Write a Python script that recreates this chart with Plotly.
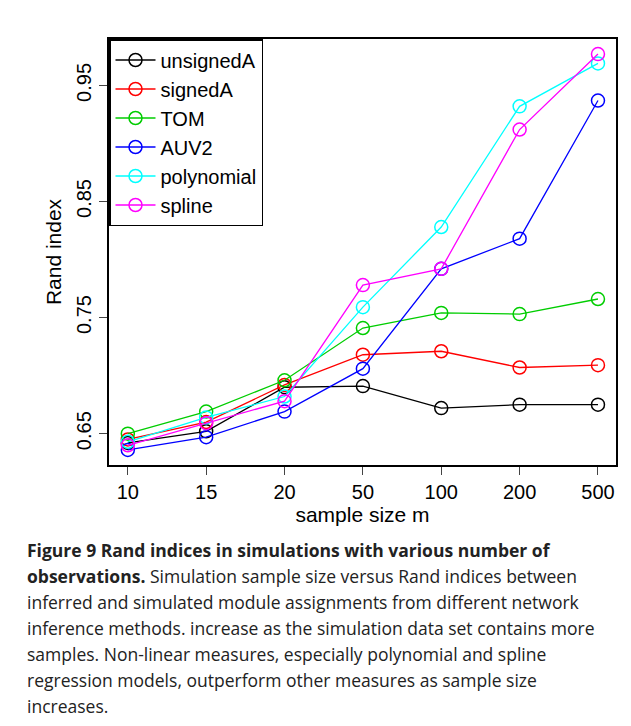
import plotly.graph_objects as go

sizes = ["10", "15", "20", "50", "100", "200", "500"]
unsignedA = [0.642, 0.652, 0.690, 0.691, 0.672, 0.675, 0.675]
signedA = [0.645, 0.660, 0.692, 0.718, 0.721, 0.707, 0.709]
tom = [0.650, 0.669, 0.696, 0.741, 0.754, 0.753, 0.766]
auv2 = [0.636, 0.647, 0.669, 0.706, 0.792, 0.818, 0.937]
polynomial = [0.643, 0.664, 0.682, 0.759, 0.828, 0.932, 0.969]
spline = [0.640, 0.659, 0.678, 0.778, 0.792, 0.912, 0.977]

series = [
    ("unsignedA", unsignedA, "black"),
    ("signedA", signedA, "#ff0000"),
    ("TOM", tom, "#00cd00"),
    ("AUV2", auv2, "#0000ff"),
    ("polynomial", polynomial, "#00ffff"),
    ("spline", spline, "#ff00ff"),
]

fig = go.Figure()
for name, vals, col in series:
    fig.add_trace(go.Scatter(
        x=list(range(len(sizes))), y=vals, name=name, mode="lines+markers",
        line=dict(color=col, width=1.3),
        marker=dict(symbol="circle-open", size=13, color=col, line=dict(width=1.5)),
    ))

font = "Liberation Sans, Arial"
fig.update_layout(
    width=631, height=726, plot_bgcolor="white", paper_bgcolor="white",
    margin=dict(l=101, r=23, t=31, b=269),
    font=dict(family=font, size=20, color="black"),
    showlegend=True,
    legend=dict(x=0, y=1, xanchor="left", yanchor="top", bgcolor="white",
                bordercolor="black", borderwidth=1.5, font=dict(size=20),
                tracegroupgap=0, itemwidth=40),
)
fig.update_xaxes(range=[-0.24, 6.23], tickvals=list(range(len(sizes))), ticktext=sizes,
                 showgrid=False, zeroline=False, showline=True, mirror=True,
                 linecolor="black", linewidth=1.5, ticks="outside", ticklen=8,
                 title=dict(text="sample size m", standoff=2, font=dict(size=21)))
fig.update_yaxes(range=[0.623, 0.990], tickvals=[0.65, 0.75, 0.85, 0.95],
                 ticktext=["0.65", "0.75", "0.85", "0.95"], tickangle=-90,
                 showgrid=False, zeroline=False, showline=True, mirror=True,
                 linecolor="black", linewidth=1.5, ticks="outside", ticklen=8,
                 title=dict(text="Rand index", standoff=6, font=dict(size=21)))

caption = [
    "<b>Figure 9 Rand indices in simulations with various number of</b>",
    "<b>observations.</b> Simulation sample size versus Rand indices between",
    "inferred and simulated module assignments from different network",
    "inference methods. increase as the simulation data set contains more",
    "samples. Non-linear measures, especially polynomial and spline",
    "regression models, outperform other measures as sample size",
    "increases.",
]
for i, line in enumerate(caption):
    fig.add_annotation(text=line, xref="paper", yref="paper", x=-84 / 507,
                       xanchor="left", yanchor="middle", showarrow=False,
                       y=1 - (542 + 26 * i - 31) / 426,
                       font=dict(family="Open Sans, Noto Sans", size=17.5, color="#222"))

fig.write_html("out.html")
